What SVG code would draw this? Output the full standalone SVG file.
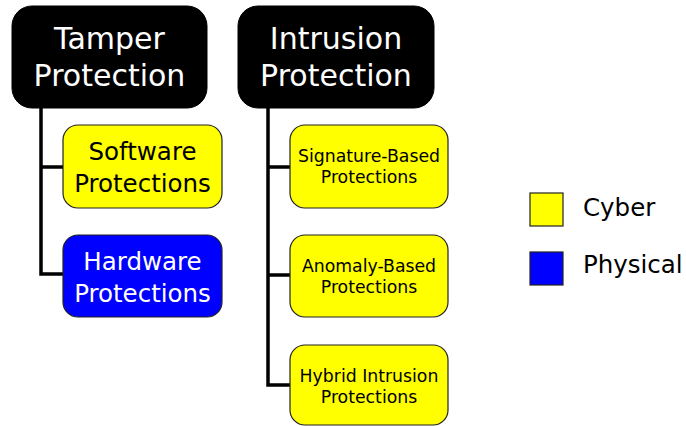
<svg xmlns="http://www.w3.org/2000/svg" width="686" height="426" viewBox="0 0 686 426">
  <style>
    text { font-family: "DejaVu Sans", Verdana, sans-serif; text-anchor: middle; }
    .head rect { fill: #000; stroke: #000; stroke-width: 1; }
    .head text { fill: #fff; font-size: 30px; }
    .cyber rect { fill: #ffff00; stroke: #222; stroke-width: 1.2; }
    .phys rect { fill: #0000ff; stroke: #222; stroke-width: 1.2; }
    .cyber text { fill: #000; }
    .phys text { fill: #fff; }
    .big text { font-size: 24.5px; }
    .small text { font-size: 17.3px; }
    .conn { fill: none; stroke: #000; stroke-width: 3.5; stroke-linejoin: miter; }
    .legend text { font-size: 24.5px; text-anchor: start; fill: #000; }
    .legend rect { stroke: #222; stroke-width: 1.2; }
  </style>

  <!-- connectors -->
  <g id="connectors">
    <path class="conn" d="M41 108 V274 H63 M41 167 H63"/>
    <path class="conn" d="M268 108 V385 H290 M268 167 H290 M268 275 H290"/>
  </g>

  <!-- tree heads -->
  <g id="tamper" class="head">
    <rect x="12" y="6" width="195" height="102" rx="20"/>
    <text x="109.5" y="49">Tamper</text>
    <text x="109.5" y="86">Protection</text>
  </g>
  <g id="intrusion" class="head">
    <rect x="238" y="6" width="196" height="102" rx="20"/>
    <text x="336" y="49">Intrusion</text>
    <text x="336" y="86">Protection</text>
  </g>

  <!-- tamper children -->
  <g id="software" class="cyber big">
    <rect x="63" y="125" width="159" height="83" rx="15"/>
    <text x="142.5" y="160">Software</text>
    <text x="142.5" y="192">Protections</text>
  </g>
  <g id="hardware" class="phys big">
    <rect x="63" y="235" width="159" height="82" rx="15"/>
    <text x="142.5" y="270">Hardware</text>
    <text x="142.5" y="302">Protections</text>
  </g>

  <!-- intrusion children -->
  <g id="signature" class="cyber small">
    <rect x="290" y="125" width="158" height="83" rx="15"/>
    <text x="369" y="162">Signature-Based</text>
    <text x="369" y="183">Protections</text>
  </g>
  <g id="anomaly" class="cyber small">
    <rect x="290" y="235" width="158" height="82" rx="15"/>
    <text x="369" y="272">Anomaly-Based</text>
    <text x="369" y="293">Protections</text>
  </g>
  <g id="hybrid" class="cyber small">
    <rect x="290" y="345" width="158" height="80" rx="15"/>
    <text x="369" y="382">Hybrid Intrusion</text>
    <text x="369" y="403">Protections</text>
  </g>

  <!-- legend -->
  <g id="legend" class="legend">
    <rect x="530" y="193" width="33" height="33" fill="#ffff00"/>
    <text x="583" y="216">Cyber</text>
    <rect x="530" y="252" width="33" height="33" fill="#0000ff"/>
    <text x="583" y="273">Physical</text>
  </g>
</svg>
